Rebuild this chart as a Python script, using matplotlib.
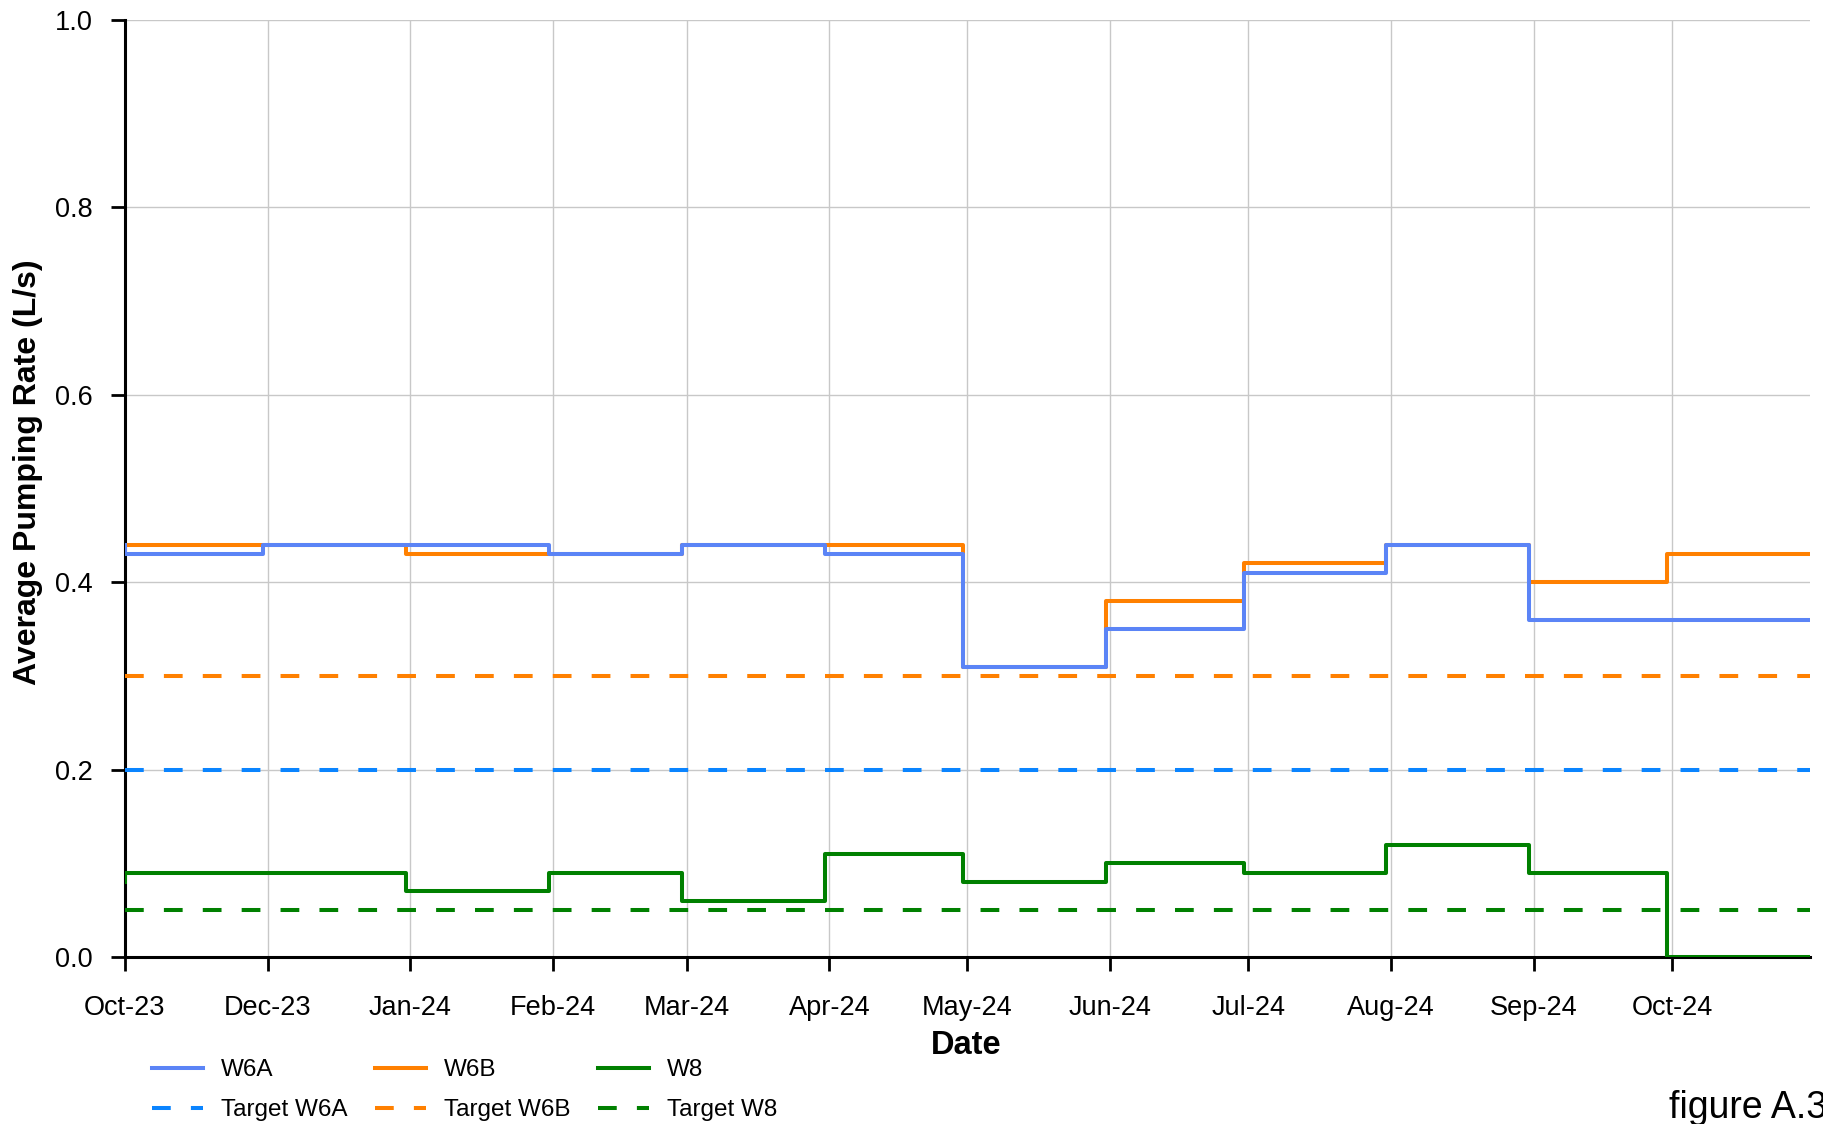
import matplotlib
matplotlib.use("Agg")
import matplotlib.pyplot as plt
import datetime as dt

plt.rcParams['font.family'] = ['Liberation Sans', 'DejaVu Sans']
plt.rcParams['lines.scale_dashes'] = False

# ---- data ----
step_dates = ["2023-10-31", "2023-11-30", "2023-12-31", "2024-01-31", "2024-02-29",
              "2024-03-31", "2024-04-30", "2024-05-31", "2024-06-30", "2024-07-31",
              "2024-08-31", "2024-09-30", "2024-10-31"]
w6a = [0.44, 0.43, 0.44, 0.44, 0.43, 0.44, 0.43, 0.31, 0.35, 0.41, 0.44, 0.36, 0.36]
w6b = [0.44, 0.44, 0.44, 0.43, 0.43, 0.44, 0.44, 0.31, 0.38, 0.42, 0.44, 0.40, 0.43]
w8 = [0.08, 0.09, 0.09, 0.07, 0.09, 0.06, 0.11, 0.08, 0.10, 0.09, 0.12, 0.09, 0.00]
target_w6a = 0.2
target_w6b = 0.3
target_w8 = 0.05

tick_dates = ["2023-10-31", "2023-12-01", "2024-01-01", "2024-02-01", "2024-03-01",
              "2024-04-01", "2024-05-01", "2024-06-01", "2024-07-01", "2024-08-01",
              "2024-09-01", "2024-10-01"]
tick_labels = ["Oct-23", "Dec-23", "Jan-24", "Feb-24", "Mar-24", "Apr-24", "May-24",
               "Jun-24", "Jul-24", "Aug-24", "Sep-24", "Oct-24"]
y_ticks = [0.0, 0.2, 0.4, 0.6, 0.8, 1.0]

x = [dt.datetime.strptime(d, "%Y-%m-%d") for d in step_dates]
xt = [dt.datetime.strptime(d, "%Y-%m-%d") for d in tick_dates]
xr = [x[0], x[-1]]

W, H = 1824, 1124
fig = plt.figure(figsize=(W / 100, H / 100), dpi=100)
ax = fig.add_axes([125 / W, 1 - 957 / H, (1810 - 125) / W, (957 - 20) / H])

c_w6a = '#5B84F6'
c_w6b = '#FF8000'
c_w8 = '#008000'
c_t6a = '#0A84FF'

lw = 2.9
dash = (0, (13.5, 14.5))
ax.plot(xr, [target_w6a] * 2, color=c_t6a, lw=lw, linestyle=dash, label='Target W6A', zorder=3)
ax.plot(xr, [target_w6b] * 2, color=c_w6b, lw=lw, linestyle=dash, label='Target W6B', zorder=3)
ax.plot(xr, [target_w8] * 2, color=c_w8, lw=lw, linestyle=dash, label='Target W8', zorder=3)
ax.step(x, w8, where='pre', color=c_w8, lw=lw, label='W8', zorder=4)
ax.step(x, w6b, where='pre', color=c_w6b, lw=lw, label='W6B', zorder=4)
ax.step(x, w6a, where='pre', color=c_w6a, lw=lw, label='W6A', zorder=5)

ax.set_xlim(x[0], x[-1])
ax.set_ylim(0, 1.0)
ax.set_xticks(xt)
ax.set_xticklabels(tick_labels)
ax.set_yticks(y_ticks)
ax.set_yticklabels([f"{v:.1f}" for v in y_ticks])

ax.grid(True, color='#C8C8C8', lw=1.0, zorder=0)
ax.set_axisbelow(True)
for s in ['top', 'right']:
    ax.spines[s].set_visible(False)
for s in ['left', 'bottom']:
    ax.spines[s].set_linewidth(2.2)
    ax.spines[s].set_color('black')
ax.tick_params(axis='both', direction='out', length=10, width=2.0, labelsize=19.5, colors='black')
ax.tick_params(axis='y', pad=13)
ax.tick_params(axis='x', pad=17.5)

fig.text(28 / W, 1 - 472 / H, "Average Pumping Rate (L/s)", rotation=90, ha='center', va='center',
         fontsize=23, fontweight='bold')
fig.text(966 / W, 1 - 1045 / H, "Date", ha='center', va='center', fontsize=23.5, fontweight='bold')
fig.text(1669 / W, 1 - 1118 / H, "figure A.3", ha='left', va='baseline', fontsize=27)

h, l = ax.get_legend_handles_labels()
order = ['W6A', 'Target W6A', 'W6B', 'Target W6B', 'W8', 'Target W8']
hd = dict(zip(l, h))
fig.legend([hd[k] for k in order], order, ncol=3, loc='upper left',
           bbox_to_anchor=(152 / W, 1 - 1059 / H), frameon=False, fontsize=17.5,
           handlelength=2.1, handletextpad=0.72, columnspacing=1.15, labelspacing=0.75,
           borderpad=0, borderaxespad=0)

fig.savefig("out.png", dpi=100)
